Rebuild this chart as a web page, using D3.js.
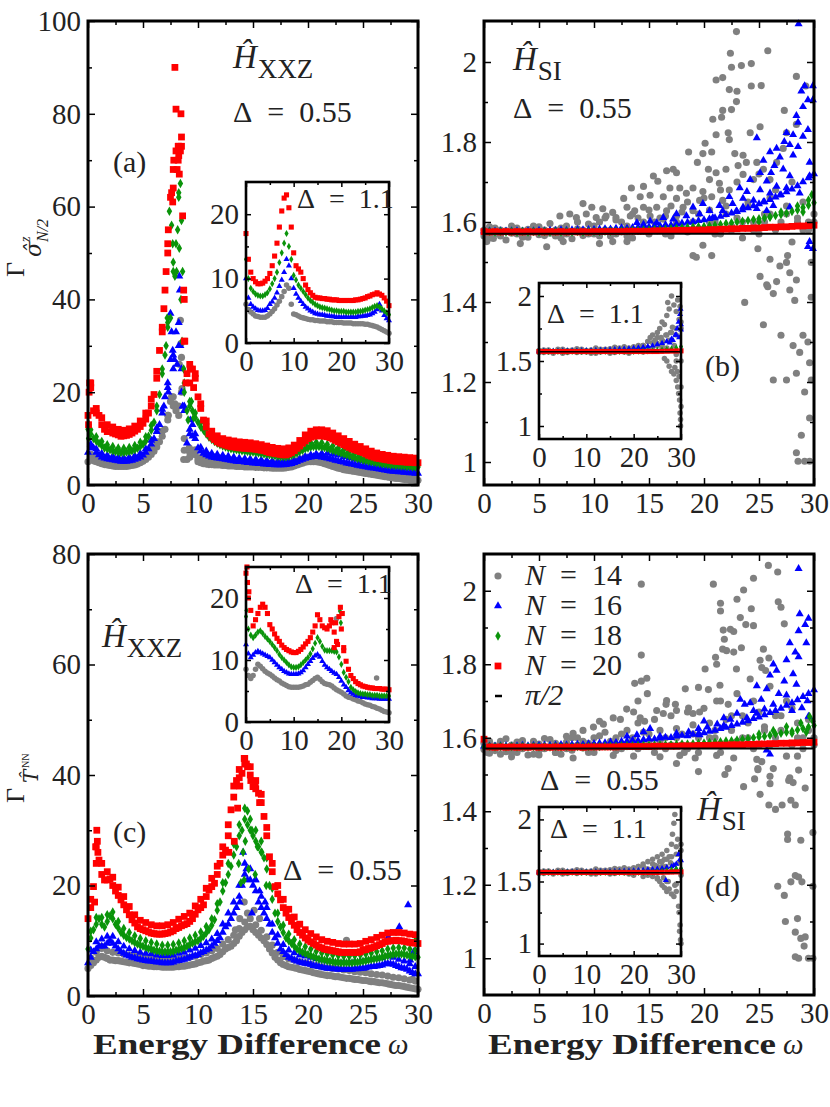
<!DOCTYPE html>
<html>
<head>
<meta charset="utf-8">
<script src="https://cdn.jsdelivr.net/npm/d3@7"></script>
<style>
body { margin: 0; background: #fff; }
svg text { font-family: "Liberation Serif", "DejaVu Serif", serif; fill: #222; }
</style>
</head>
<body>
<svg id="fig" width="830" height="1107"></svg>
<script>
// ---- ticks ----
var xMajor = [0, 5, 10, 15, 20, 25, 30];
var xMinor = [2.5, 7.5, 12.5, 17.5, 22.5, 27.5];
var aYMajor = [0, 20, 40, 60, 80, 100], aYMinor = [10, 30, 50, 70, 90];
var cYMajor = [0, 20, 40, 60, 80], cYMinor = [10, 30, 50, 70];
var siYMajor = [1, 1.2, 1.4, 1.6, 1.8, 2], siYMinor = [1.1, 1.3, 1.5, 1.7, 1.9];
var inXMajor = [0, 10, 20, 30], inXMinor = [5, 15, 25];
var inXXZMajor = [0, 10, 20], inXXZMinor = [5, 15];
var inSIMajor = [1, 1.5, 2], inSIMinor = [1.25, 1.75];
var legendLabels = ['14', '16', '18', '20'];
var piHalf = Math.PI / 2;

// ---- (a) sigma^z_{N/2}, Delta = 0.55: band centre on a 0.25 grid, upper edge on 0.25 + 0.5 grid ----
var aGray = [5,5.5,5.2,5,4.8,4.6,4.4,4.3,4.2,4.1,4,4,4,4,4,4.1,4.2,4.3,4.5,4.8,
  5.1,5.5,6,6.6,7.3,8.2,9.3,10.5,12,14,18,17,16,15,20,10,5.5,6,7.5,6.5,
  5,4.8,4.6,4.5,4.4,4.4,4.3,4.3,4.3,4.2,4.2,4.1,4.1,4.1,4,4,4,3.9,3.9,3.9,
  3.9,3.8,3.8,3.8,3.7,3.7,3.7,3.6,3.6,3.6,3.6,3.6,3.7,3.8,3.9,4.1,4.3,4.5,4.7,4.9,
  5,5,5,5,4.9,4.8,4.6,4.4,4.2,4,3.8,3.6,3.5,3.3,3.2,3.1,3,2.9,2.8,2.7,
  2.6,2.5,2.4,2.3,2.2,2.1,2,1.9,1.8,1.7,1.6,1.5,1.4,1.4,1.3,1.2,1.2,1.1,1.1,1, 1];
var aGrayHi = [6.6,6.1,5.7,5.4,5.2,5.1,5.1,5.2,5.4,5.9, 6.6,7.7,9.3,11.6,15,19,17,7.5,7,7.6,
  5.9,5.6,5.5,5.4,5.3,5.2,5.2,5.1,5,5, 4.9,4.9,4.8,4.7,4.7,4.7,4.9,5.2,5.6,6,
  6.1,6.1,5.9,5.5,5.1,4.7,4.4,4.2,4,3.8, 3.6,3.4,3.2,3,2.8,2.6,2.5,2.3,2.2,2.1];
var aBlue = [7,8,8,7,6.5,6,5.8,5.6,5.5,5.4,5.3,5.2,5.1,5.1,5.1,5.2,5.3,5.5,5.7,6,
  6.4,7,7.8,8.8,10,11.5,13,15.5,19,21,27,25,33,30,25,16,9,11,13,10,
  8,7.3,6.8,6.5,6.2,6,5.9,5.8,5.7,5.6,5.5,5.4,5.3,5.2,5.1,5,5,4.9,4.8,4.8,
  4.7,4.7,4.6,4.6,4.5,4.5,4.4,4.4,4.3,4.3,4.3,4.3,4.4,4.5,4.6,4.8,5,5.3,5.5,5.7,
  5.9,6,6.1,6.1,6.1,6,5.9,5.8,5.6,5.5,5.3,5.2,5,4.9,4.7,4.6,4.5,4.4,4.2,4.1,
  4,3.9,3.8,3.7,3.6,3.5,3.4,3.3,3.2,3.1,3,2.9,2.9,2.8,2.8,2.7,2.7,2.6,2.6,2.5, 2.5];
var aBlueHi = [8.8,7.8,6.8,6.4,6.2,6,5.9,6,6.3,6.8, 7.8,9.6,12.3,16.3,22,28,35,17,12,11,
  8.1,7.3,6.8,6.6,6.4,6.2,6,5.8,5.7,5.6, 5.5,5.4,5.3,5.2,5.1,5.1,5.1,5.3,5.6,6.1,
  6.5,6.7,6.8,6.8,6.6,6.4,6.1,5.8,5.5,5.2, 4.9,4.7,4.5,4.3,4.1,3.9,3.8,3.7,3.6,3.5];
var aGreen = [12,11,10,9.5,9,8.5,8,7.8,7.6,7.4,7.2,7.1,7,7,7.1,7.2,7.4,7.6,7.9,8.3,
  8.8,9.5,10.5,11.8,13.5,16,19.5,24,28,34,36,46,52,62,57,20,16,17,16,14.5,
  13.5,12.5,11.8,11,10.3,9.8,9.4,9,8.7,8.4,8.2,8,7.8,7.7,7.6,7.5,7.4,7.3,7.2,7.1,
  7.1,7,6.9,6.8,6.7,6.6,6.5,6.4,6.3,6.2,6.1,6.1,6.1,6.2,6.4,6.6,6.9,7.2,7.5,7.8,
  8,8.2,8.3,8.3,8.3,8.2,8.1,7.9,7.7,7.5,7.3,7.1,6.9,6.7,6.5,6.3,6.1,5.9,5.7,5.6,
  5.4,5.3,5.1,5,4.9,4.8,4.7,4.6,4.5,4.4,4.3,4.3,4.2,4.2,4.1,4.1,4,4,3.9,3.9, 3.9];
var aGreenHi = [11.9,10.4,9.4,8.7,8.3,8,7.9,8.1,8.5,9.2, 10.4,12.8,17,25,35,48,63,22,18,15.5,
  13.4,11.9,10.7,9.9,9.3,8.9,8.6,8.4,8.2,8, 7.9,7.7,7.5,7.3,7.1,7,7.1,7.5,8.1,8.7,
  9.1,9.2,9.1,8.8,8.4,8,7.6,7.2,6.8,6.5, 6.2,5.9,5.7,5.5,5.3,5.2,5.1,5,4.9,4.8];
var aRed = [15,21,16,15.5,15,13,12,11.5,11.5,11.2,11,10.8,10.5,10.6,10.7,10.9,11.2,11.6,12,12.6,
  13.3,14.2,15.5,17,19.5,23,29,34,42,52,62,64,72,71,73,40,24,22,25,23,
  19,16.5,14,12.5,11,10.3,9.8,9.3,9,8.8,8.6,8.4,8.3,8.2,8.1,8,8,7.9,7.9,7.8,
  7.8,7.7,7.6,7.5,7.4,7.2,7,6.9,6.8,6.7,6.6,6.5,6.5,6.7,7,7.4,7.9,8.4,9,9.5,
  10,10.3,10.5,10.6,10.6,10.6,10.5,10.4,10.2,9.9,9.6,9.3,9,8.7,8.4,8.1,7.8,7.6,7.4,7.2,
  7,6.7,6.4,6.2,6,5.8,5.7,5.6,5.5,5.4,5.3,5.2,5.1,5.1,5,5,4.9,4.9,4.9,4.8, 4.8];
var aRedHi = [22,16.5,14.5,13,12.5,12,11.8,12.1,12.7,13.8, 15.5,18.5,24.5,33,50,68,73,31,26,24,
  17.5,13.8,11.6,10.6,10,9.7,9.5,9.3,9.2,9.1, 8.9,8.7,8.4,8.1,7.9,7.8,8,8.6,9.6,10.8,
  11.6,11.9,11.9,11.7,11.2,10.6,10,9.4,8.8,8.3, 7.8,7.3,6.9,6.6,6.4,6.2,6.1,6,5.9,5.8];
var aGrayPts = [[8.4,35.5],[8.45,30.5],[8.5,27.5],[8.55,20.8],[8.3,26],[7.6,19],[7.9,17.5],[8.7,5.5],[9.2,8],[9.6,7.2],[10,5.5],[7.3,15]];
var aBluePts = [[7.5,37],[7.6,33],[7.7,29],[7.85,27],[8.1,26],[8.3,45],[8.35,42],[8.4,30],[8.5,20],[8.6,17],[9.3,14],[9.5,10.5],[7.3,20],[6.9,17]];
var aGreenPts = [[7.4,59],[7.6,56],[7.7,52],[7.9,45],[8.05,46],[8.15,55],[8.3,51],[8.4,65],[8.45,40],[8.55,31],[8.6,46],[7.2,36],[7.1,30],[8.7,25],[9.1,14],[9.4,18],[9.6,14.5],[0.1,13],[0.05,10]];
var aRedPts = [[7.6,63],[7.7,61],[7.9,90],[8,81],[8.1,68],[8.2,70],[8.3,67],[8.45,80],[8.5,75],[8.4,72],[8.6,58],[8.7,42],[8.8,31],[8.9,22],[9.3,25],[9.6,21],[7.3,55],[7.1,46],[6.9,38],[0.1,20],[0.15,22],[0.05,13],[8.2,73],[7.8,70]];

// ---- (a) inset, Delta = 1.1, step 0.5 ----
var iaGray = [6,5.2,4.8,4.5,4.2,4.1,4,4,4,4.2, 4.5,4.9,5.3,5.9,6.5,7.2,8,9,8.5,6,
  4.5,4.4,4.2,4,3.9,3.8,3.7,3.6,3.6,3.5, 3.5,3.4,3.4,3.4,3.3,3.3,3.3,3.2,3.2,3.2,
  3.2,3.1,3.1,3.1,3.1,3,3,3,3,3, 2.9,2.9,2.8,2.7,2.6,2.5,2.3,2.1,1.9,1.7, 1.5];
var iaBlue = [10,7,6,5.6,5.3,5.1,5,5,5.1,5.4, 6,6.4,7,7.8,8.8,9.8,11,13,12,10,
  8.5,7.6,7,6.5,6,5.6,5.3,5,4.8,4.6, 4.5,4.4,4.4,4.3,4.2,4.2,4.1,4.1,4,4,
  4,4,4,4,4,4,4,4.1,4.1,4.2, 4.2,4.3,4.4,4.6,4.8,5.2,6,5,4.3,3.8, 3.5];
var iaGreen = [13,10,8.5,8,7.6,7.4,7.3,7.3,7.5,7.8, 8.4,9.2,10,11,12.5,14,15.5,17,15,13,
  10.5,9.8,9,8.5,8,7.5,7,6.6,6.3,6, 5.8,5.6,5.5,5.4,5.3,5.2,5.1,5,5,4.9,
  4.9,4.9,4.8,4.8,4.8,4.8,4.8,4.9,4.9,5, 5.1,5.2,5.3,5.5,5.7,5.8,5.6,5.3,5,4.7, 4.4];
var iaRed = [17,13,11,10,9.5,9.2,9.2,9.3,9.6,10, 10.8,12,13.5,15.5,18,20.5,22.5,23,21,18,
  14,12,11.5,11,10,9,8.3,7.8,7.4,7.1, 7,7,6.9,6.9,6.8,6.8,6.7,6.7,6.7,6.6,
  6.6,6.6,6.6,6.6,6.6,6.6,6.7,6.7,6.8,6.9, 7,7.2,7.3,7.5,7.6,7.8,7.6,7.4,7,6.5, 5.8];

// ---- (b) sigma, H_SI, Delta = 0.55, step 0.5 ----
var bGray = [1.58,1.56,1.585,1.565,1.578,1.59,1.57,1.562,1.582,1.575,1.588,1.566,1.572,1.58,1.56,1.59,1.575,1.583,1.566,1.595,
  1.57,1.6,1.58,1.565,1.605,1.575,1.59,1.56,1.61,1.585,1.57,1.6,1.58,1.615,1.565,1.595,1.625,1.575,1.6,1.62,
  1.58,1.63,1.6,1.57,1.64,1.59,1.61,1.56,1.65,1.6,1.57,1.62,1.66,1.58,1.6,1.64,1.55,1.61,1.58,1.6, 1.6];
var bGray2 = [1.565,1.588,1.57,1.58,1.555,1.572,1.585,1.578,1.562,1.59,1.568,1.58,1.596,1.565,1.585,1.57,1.558,1.6,1.58,1.57,
  1.59,1.565,1.61,1.58,1.57,1.6,1.565,1.62,1.58,1.6,1.63,1.58,1.61,1.57,1.64,1.6,1.585,1.65,1.6,1.58,
  1.66,1.6,1.57,1.68,1.62,1.58,1.7,1.6,1.64,1.58,1.72,1.6,1.62,1.68,1.59,1.62,1.7,1.6,1.65,1.58, 1.62];
var bBlue = [1.577,1.578,1.577,1.578,1.577,1.578,1.578,1.577,1.578,1.578,1.579,1.578,1.579,1.579,1.58,1.579,1.58,1.581,1.58,1.581,
  1.581,1.582,1.583,1.582,1.584,1.585,1.584,1.586,1.587,1.589,1.588,1.59,1.591,1.593,1.592,1.595,1.597,1.599,1.601,1.603,
  1.605,1.608,1.61,1.614,1.618,1.622,1.626,1.63,1.635,1.64,1.645,1.65,1.656,1.662,1.668,1.675,1.682,1.69,1.7,1.71, 1.72];
var bGreen = [1.575,1.576,1.575,1.576,1.575,1.576,1.575,1.576,1.575,1.576,1.575,1.576,1.575,1.576,1.575,1.576,1.575,1.576,1.575,1.576,
  1.576,1.576,1.577,1.577,1.577,1.578,1.578,1.579,1.579,1.58,1.58,1.581,1.581,1.582,1.583,1.584,1.585,1.586,1.587,1.588,
  1.589,1.59,1.592,1.594,1.596,1.598,1.6,1.602,1.604,1.606,1.608,1.61,1.613,1.616,1.619,1.622,1.626,1.63,1.636,1.642, 1.648];
var bRed = [1.576,1.575,1.576,1.575,1.576,1.575,1.576,1.575,1.576,1.575,1.576,1.575,1.576,1.575,1.576,1.575,1.576,1.575,1.576,1.575,
  1.576,1.576,1.576,1.576,1.576,1.576,1.577,1.577,1.577,1.577,1.577,1.578,1.578,1.578,1.578,1.579,1.579,1.579,1.58,1.58,
  1.58,1.581,1.581,1.582,1.582,1.583,1.583,1.584,1.584,1.585,1.585,1.586,1.587,1.587,1.588,1.588,1.589,1.59,1.59,1.591, 1.592];
var bGrayPts = [[22.95,2.076],[22.4,2.022],[22.5,1.987],[23.4,1.991],[24.3,1.996],[25.8,2.028],[21.1,1.955],[21.7,1.961],[22.3,1.931],[23,1.927],
  [24.3,1.94],[25.2,1.941],[22.95,1.901],[28.4,1.964],[29.25,1.94],[21.7,1.879],[22.5,1.881],[27.3,1.879],[20.8,1.857],[21.6,1.862],
  [22.2,1.823],[21.1,1.818],[25.1,1.838],[24.2,1.823],[27.5,1.823],[28.4,1.844],[20.1,1.797],[20.7,1.775],[22.3,1.806],[22.8,1.771],
  [23.55,1.767],[23.85,1.749],[27.2,1.784],[18.6,1.775],[19.9,1.771],[19.4,1.749],[20.4,1.732],[21.1,1.723],[22,1.732],[23.1,1.741],
  [24.8,1.749],[25.4,1.732],[26.6,1.749],[16.6,1.728],[17.2,1.732],[17.5,1.723],[15.4,1.715],[15.8,1.702],[20.5,1.706],[21.4,1.697],
  [23.55,1.719],[24.5,1.706],[26,1.706],[13.4,1.685],[14.5,1.689],[16.9,1.685],[17.8,1.685],[19,1.685],[19.9,1.676],[22.3,1.68],
  [12.7,1.659],[14.2,1.663],[15.1,1.667],[16.3,1.663],[17.5,1.659],[18.4,1.672],[19.6,1.654],[20.7,1.663],[21.7,1.654],[9,1.646],
  [9.8,1.637],[10.8,1.633],[11.7,1.624],[13,1.637],[13.7,1.628],[14.5,1.637],[15.7,1.637],[16.6,1.628],[18.1,1.637],[19,1.628],
  [6.9,1.615],[7.8,1.62],[8.4,1.611],[9.3,1.62],[10.2,1.611],[11.1,1.615],[12,1.611],[13.3,1.615],[15.1,1.615],[16.3,1.607],[17.5,1.615],
  [0.25,1.551],[0.85,1.559],[3.3,1.546],[5.7,1.538],[7.2,1.551],[10.5,1.546],[11.7,1.551],[13,1.551],[19,1.516],[19.3,1.512],
  [19.9,1.542],[20.7,1.516],[24.9,1.533],[25.1,1.464],[26,1.507],[25.8,1.438],[26.9,1.49],[27.6,1.516],[27.5,1.499],[27.8,1.473],
  [28.4,1.455],[26.6,1.451],[25.7,1.443],[26.3,1.421],[27.8,1.43],[28.25,1.404],[23.7,1.399],[25.4,1.343],[27,1.317],[28.1,1.291],
  [29,1.317],[29.45,1.3],[26.3,1.205],[27.5,1.205],[28.4,1.222],[29.15,1.175],[29.6,1.11],[28.85,1.067],[28.4,1.023],[28.55,1.002],
  [29.15,1.002],[29.6,1.002],[29.75,1.205],[29.75,1.412],[29.6,1.248],[28.7,1.274],[29.75,1.499]];
var bBluePts = [[28.6,2.095],[29.15,1.94],[29.9,1.94],[28.85,1.927],[29.45,1.905],[29,1.888],[29.9,1.905],[28.4,1.866],[28.55,1.849],[29.45,1.831],
  [27.5,1.823],[28.1,1.818],[29,1.814],[24.8,1.81],[27.3,1.801],[27.8,1.793],[28.55,1.788],[26.6,1.784],[26,1.775],[26.9,1.762],
  [28.1,1.767],[25.4,1.754],[29.6,1.749],[26.4,1.741],[27.2,1.732],[26.1,1.723],[25.1,1.723],[27.8,1.715],[29.6,1.715],[24.2,1.706],
  [25.7,1.702],[26.6,1.689],[27.5,1.685],[23.25,1.685],[23.9,1.676],[25.1,1.68],[26,1.672],[26.9,1.667],[28.7,1.672],[22.3,1.663],
  [23.55,1.659],[24.5,1.654],[25.4,1.65],[19.9,1.646],[21.4,1.641],[22.6,1.646],[23.55,1.637],[26.3,1.641],[27.8,1.637],[19,1.637],
  [20.5,1.628],[21.7,1.628],[22.95,1.628],[24.8,1.633],[25.7,1.628],[17.5,1.62],[18.4,1.615],[19.6,1.62],[20.8,1.611],[16.3,1.611],
  [17.2,1.607],[15.1,1.602],[13.9,1.598],[14.5,1.594],[15.7,1.598],[29.45,1.538],[29.6,1.551],[29.9,1.533]];
var bGreenPts = [[29.8,1.668],[29.5,1.655],[28.5,1.64],[27,1.625],[26,1.612],[29,1.625],[25,1.6]];

// ---- (b) inset, Delta = 1.1, step 1 ----
var ibGray = [1.58,1.565,1.585,1.57,1.59,1.56,1.58,1.575,1.565,1.59,1.57,1.585,1.56,1.59,1.575,1.595,1.565,1.6,1.57,1.6,1.61,1.58,1.62,1.6,1.64,1.63,1.66,1.7,1.72,1.75,1.8];
var ibGray2 = [1.565,1.585,1.57,1.56,1.578,1.59,1.565,1.585,1.595,1.57,1.58,1.56,1.6,1.57,1.59,1.56,1.605,1.58,1.61,1.56,1.59,1.62,1.57,1.65,1.6,1.68,1.62,1.6,1.66,1.55,1.5];
var ibBlue = [1.576,1.577,1.576,1.577,1.577,1.578,1.578,1.578,1.579,1.58,1.58,1.581,1.582,1.583,1.584,1.586,1.588,1.59,1.592,1.595,1.598,1.602,1.606,1.611,1.618,1.626,1.636,1.65,1.67,1.7,1.74];
var ibGreen = [1.573,1.573,1.573,1.573,1.573,1.573,1.573,1.573,1.573,1.573,1.573,1.573,1.573,1.573,1.573,1.573,1.573,1.573,1.573,1.573,1.574,1.575,1.576,1.577,1.579,1.581,1.584,1.588,1.593,1.6,1.61];
var ibRed = [1.573,1.573,1.573,1.573,1.573,1.573,1.573,1.573,1.573,1.573,1.573,1.573,1.573,1.573,1.573,1.573,1.573,1.573,1.573,1.573,1.573,1.573,1.573,1.573,1.573,1.573,1.574,1.575,1.576,1.577,1.578];
var ibGrayPts = [[22,1.62],[23,1.65],[23.5,1.68],[24,1.7],[24.5,1.66],[25,1.72],[25.5,1.75],[26,1.8],[26.5,1.78],[27,1.85],[27.5,1.9],[27.2,1.95],[28,2],[28.5,1.93],[29,1.88],[29.3,1.97],[29.6,1.82],[28.2,1.76],[27.8,1.72],[26.8,1.7],[25.8,1.68],[26.2,1.65],[24.8,1.64],[27.5,1.66],[29,1.7],[28.6,1.62],[29.8,1.92],[30,1.75],[25,1.62],[26,1.6],[20,1.6],[18,1.59],[16,1.6],[21,1.61],[23,1.6],
  [26.5,1.52],[27,1.5],[27.5,1.46],[28,1.42],[28.5,1.4],[29,1.35],[29.3,1.3],[29.5,1.25],[29.7,1.2],[29.8,1.1],[29.9,1.05],[29.9,1],[28.7,1.45],[29.2,1.42],[29.6,1.38],[30,1.3],[30,1.15],[29,1.5]];
var ibBluePts = [[29.5,1.8],[29.8,1.86],[29.9,1.9],[29.2,1.75],[28.8,1.7],[29.6,1.68],[28.3,1.66],[27.6,1.64],[30,1.78]];

// ---- (c) T^NN, Delta = 0.55: band centre on a 0.25 grid, upper edge on 0.25 + 0.5 grid ----
var cGray = [5,5.5,6,6.5,7,7.2,7,6.8,6.5,6.5,6.4,6.4,6.3,6.2,6.1,6,6,5.9,5.8,5.7,
  5.5,5.5,5.4,5.4,5.3,5.3,5.3,5.2,5.2,5.2,5.2,5.2,5.3,5.3,5.4,5.4,5.5,5.6,5.7,5.8,
  6,6.1,6.3,6.4,6.5,6.8,7,7.2,7.5,8,8.5,8.8,9,9.5,10,10.8,11.5,12,12.5,12.6,
  12,11.5,11,10.5,10,9.3,8.5,7.8,7,6.5,6,5.7,5.5,5.3,5.2,5.1,5,4.8,4.7,4.6,
  4.5,4.4,4.2,4.1,4,3.9,3.8,3.7,3.7,3.6,3.5,3.5,3.4,3.3,3.2,3.2,3.1,3,3,2.9,
  2.8,2.8,2.7,2.6,2.6,2.5,2.4,2.4,2.3,2.2,2.1,2,1.9,1.9,1.8,1.7,1.6,1.5,1.4,1.3, 1.2];
var cGrayHi = [6.9,7.9,8.6,8.2,7.9,7.8,7.6,7.4,7.3,7.1, 6.9,6.8,6.7,6.6,6.6,6.6,6.7,6.8,7,7.2,
  7.5,7.8,8.2,8.6,9.4,10.2,11,12.2,13.4,14, 12.9,11.9,10.7,9.2,7.9,7.1,6.7,6.5,6.2,6,
  5.8,5.5,5.3,5.1,5,4.9,4.7,4.6,4.4,4.3, 4.2,4,3.9,3.8,3.6,3.4,3.3,3.1,2.9,2.7];
var cBlue = [6,7,8,8.5,9,9,9,9.5,10,9.5,9,8.5,8,7.7,7.4,7.2,7,6.9,6.7,6.6,
  6.5,6.4,6.3,6.3,6.2,6.1,6.1,6,6,6,6,6.1,6.3,6.4,6.5,6.6,6.8,7,7.2,7.3,
  7.5,7.8,8,8.3,8.5,9,9.5,10,10.5,11.5,12.5,13,14,15,16,18,20,22,21,21,
  20,19,17,16,15,14,13,11.5,10.5,9.5,8.5,8,7.5,7,6.8,6.5,6.3,6.1,6,5.9,
  5.8,5.7,5.5,5.4,5.3,5.2,5.1,5,5,4.9,4.9,4.8,4.8,4.8,4.8,4.8,4.8,4.9,4.9,5,
  5,5.1,5.2,5.3,5.3,5.4,5.5,5.6,5.8,5.9,5.8,5.7,5.5,5.3,5.1,5,4.8,4.5,4.2,4, 4];
var cBlueHi = [8.3,9.8,10.3,10.8,10.8,9.8,9,8.5,8.2,7.9, 7.7,7.6,7.4,7.3,7.3,7.4,7.7,7.9,8.3,8.6,
  9.1,9.6,10.3,11.3,13,15,17,20,24,23, 21,18,16,13,11,9.3,8.3,7.8,7.4,7.2,
  7,6.7,6.5,6.3,6.2,6.1,6.1,6.1,6.2,6.3, 6.4,6.6,6.7,6.9,7.2,7,6.6,6.3,5.8,5.3];
var cGreen = [8.5,10.5,12,13,14,13,12.5,13.5,14.5,14,13,12.3,11.5,11,10.6,10.3,10,9.7,9.4,9.2,
  9,8.8,8.6,8.5,8.3,8.2,8.1,8,8,8,8,8.1,8.3,8.4,8.6,8.8,9,9.3,9.6,9.8,
  10,10.4,10.8,11.4,12,12.8,13.8,15.5,17,19,20.5,22,23.5,25.5,27,29,30,32,31,30,
  29,28,27,26,25,23,20,17.5,15,13.5,12.5,11.5,10.5,10,9.5,9,8.5,8.2,7.9,7.7,
  7.5,7.3,7.1,6.9,6.7,6.6,6.5,6.4,6.3,6.2,6.1,6.1,6,6,6,6,6,6.1,6.1,6.2,
  6.3,6.4,6.5,6.6,6.7,6.8,6.9,7,7.2,7.3,7.4,7.5,7.6,7.6,7.6,7.5,7.4,7.3,7.2,7.1, 7];
var cGreenHi = [11.7,14.2,14.2,14.7,15.2,13.5,12.2,11.5,10.9,10.4, 10,9.7,9.4,9.2,9.2,9.3,9.6,10,10.5,11,
  11.6,12.6,14,16.7,20.5,24,27.5,31,34,32, 30,28,25,19.5,15,12.8,11.2,10.2,9.4,8.9,
  8.5,8.1,7.8,7.6,7.4,7.3,7.2,7.2,7.3,7.4, 7.6,7.8,8,8.2,8.5,8.7,8.8,8.7,8.5,8.3];
var cRed = [14,16,19.8,24,24.6,22,21,21,21.2,20,19,18.2,17.4,16.5,15.6,14.7,13.8,13.2,12.5,12.2,
  12,11.8,11.6,11.4,11.3,11.2,11.2,11.2,11.3,11.4,11.6,11.8,12.2,12.4,12.7,12.9,13.1,13.5,14,14.8,
  15.6,16,16.5,18,19.2,19.8,20.4,22,24,25.5,26.4,29,33.7,36,39,39.5,40.3,42,41.5,40,
  37.9,37.5,36.7,35,32.5,29,25.2,22.5,19.8,18.5,17.4,16,15,14.2,13.5,12.8,12,11.5,11,10.5,
  10.1,9.8,9.5,9.2,8.9,8.7,8.5,8.4,8.3,8.2,8.1,8,7.9,7.9,7.9,7.9,7.9,7.9,7.9,8,
  8.3,8.4,8.6,8.7,8.9,9.1,9.3,9.5,9.8,9.9,10,10,10.1,10,10,9.9,9.8,9.7,9.6,9.6, 9.5];
var cRedHi = [17.5,27,24,22.5,21.5,19.7,18,16.2,14.7,13.7, 13.3,12.9,12.7,12.7,12.9,13.3,13.9,14.4,15,16.3,
  17.5,19.5,21.3,23.5,27,31,38,41,43,41.5, 39,36.5,30.5,24,20,17.5,15.7,14.3,13,12,
  11.3,10.7,10.2,9.9,9.7,9.5,9.4,9.4,9.4,9.5, 9.9,10.2,10.6,11,11.4,11.5,11.5,11.4,11.2,11.1];
var cGrayPts = [[14.2,17],[14.5,15],[13.8,14],[15.1,15.5],[15.6,14],[13.4,12],[23.5,10.1],[29.5,3],[1.2,9]];
var cBluePts = [[14.1,26],[14.4,23],[15.2,21],[13.8,17],[15.6,19],[16.1,17],[14.9,15],[29.1,16.5],[28.3,12.5],[27.3,10.7],[29.6,8],[29.3,6.5]];
var cGreenPts = [[14.5,33.5],[14.3,28],[14.9,30],[15.4,27],[13.7,24],[15.8,26],[14.1,26],[29.8,10.2],[16.2,20],[14.2,21],[14.6,23],[15.2,22],[13.9,20.5]];
var cRedPts = [[0.8,30],[0.85,28],[0.9,26],[0.7,27],[14.2,43],[14.4,42],[13.8,38],[13.6,34],[14.8,39],[15.2,38.5],[15.6,35],[13.3,28],[12.8,26],[0.6,17]];

// ---- (c) inset, Delta = 1.1, step 0.5 ----
var icGray = [8.5,7.5,7,7.5,8.5,9.3,9,8.6,8.2,7.9, 7.7,7.4,7.1,6.8,6.6,6.3,6.1,5.9,5.7,5.6,
  5.6,5.6,5.6,5.7,5.8,6,6.1,6.4,6.7,7, 7.2,6.9,6.5,6.2,6.1,6,5.8,5.5,5.2,5,
  4.8,4.5,4.2,4,3.9,3.7,3.6,3.4,3.3,3.1, 2.9,2.8,2.7,2.5,2.4,2.2,2.1,1.9,1.7,1.6, 1.5];
var icBlue = [12.5,11,10.4,10.8,11.2,11.4,11.2,11,10.8,10.6, 10.4,10,9.6,9.2,8.8,8.5,8.2,8,7.8,7.7,
  7.7,7.7,7.8,8,8.3,8.8,9.3,9.8,10.3,10.7, 10.9,10.5,9.8,9.2,8.8,8.5,8.2,7.9,7.7,7.2,
  6.6,6,5.6,5.1,4.7,4.5,4.3,4.2,4.1,4, 4,3.9,3.9,3.8,3.8,3.8,3.7,3.7,3.7,3.7, 3.7];
var icGreen = [17,15,14,13.6,14,14.5,14.7,14.3,13.8,13.4, 13,12.5,12,11.5,10.9,10.4,10,9.6,9.2,8.9,
  8.8,8.8,8.9,9.2,9.6,10,10.4,11,11.8,12.7, 13.6,13,12.2,11.6,11.5,11.5,11.5,11.4,11.3,10.5,
  9.3,8,7.2,6.5,5.6,5.2,4.9,4.7,4.6,4.5, 4.5,4.4,4.4,4.3,4.3,4.3,4.2,4.2,4.2,4.2, 4.2];
var icRed = [24,20,18,15.5,16.5,17.5,18.5,19,18.5,17.5, 15.7,15,14.2,13.5,13,12.4,12,11.7,11.5,11.3,
  11.2,11.2,11.4,11.7,12.1,12.6,13,13.6,14.5,15.5, 17.3,16.5,15.5,15.2,15,15.5,16,14.5,13,17,
  15,12,9.8,8.5,7.5,7,6.5,6.2,6,5.8, 5.7,5.6,5.5,5.5,5.4,5.4,5.4,5.3,5.3,5.3, 5.2];
var icGrayPts = [[19,16.7],[27.4,7.1]];
var icGreenPts = [[19.7,17.9],[19.9,16],[0.1,18]];
var icRedPts = [[0.2,25],[0.3,22.5],[0.6,21],[19.8,18.5],[20.2,17.5],[18.5,12],[19.2,12.5],[20.5,11.5],[17.8,16.5],[18.8,16]];

// ---- (d) T^NN, H_SI, Delta = 0.55, step 0.5 ----
var dGray = [1.585,1.558,1.578,1.59,1.562,1.58,1.567,1.592,1.575,1.555,1.583,1.57,1.595,1.56,1.578,1.588,1.566,1.6,1.572,1.585,
  1.56,1.605,1.578,1.59,1.565,1.61,1.583,1.6,1.57,1.615,1.59,1.56,1.62,1.6,1.58,1.625,1.61,1.57,1.635,1.6,
  1.58,1.64,1.6,1.56,1.65,1.62,1.59,1.66,1.6,1.57,1.67,1.63,1.58,1.66,1.62,1.55,1.68,1.6,1.57,1.65, 1.6];
var dGray2 = [1.568,1.59,1.565,1.575,1.597,1.56,1.588,1.57,1.553,1.59,1.565,1.598,1.575,1.585,1.555,1.57,1.6,1.58,1.59,1.56,
  1.6,1.575,1.615,1.58,1.6,1.57,1.62,1.59,1.64,1.58,1.61,1.65,1.59,1.57,1.66,1.6,1.58,1.67,1.61,1.56,
  1.68,1.6,1.62,1.7,1.58,1.66,1.72,1.6,1.64,1.7,1.58,1.62,1.74,1.6,1.66,1.7,1.58,1.64,1.6,1.62, 1.58];
var dBlue = [1.577,1.578,1.577,1.578,1.578,1.577,1.578,1.579,1.578,1.579,1.579,1.58,1.579,1.58,1.581,1.58,1.581,1.582,1.581,1.583,
  1.584,1.585,1.586,1.588,1.587,1.59,1.591,1.593,1.592,1.595,1.597,1.596,1.599,1.601,1.6,1.604,1.606,1.605,1.609,1.611,
  1.613,1.617,1.62,1.625,1.628,1.633,1.637,1.642,1.646,1.652,1.656,1.662,1.668,1.674,1.68,1.688,1.695,1.703,1.712,1.72, 1.73];
var dGreen = [1.575,1.576,1.575,1.576,1.575,1.576,1.575,1.576,1.575,1.576,1.575,1.576,1.575,1.576,1.575,1.576,1.575,1.576,1.575,1.576,
  1.576,1.576,1.577,1.577,1.577,1.578,1.578,1.578,1.579,1.579,1.579,1.58,1.58,1.581,1.581,1.582,1.583,1.583,1.584,1.585,
  1.586,1.587,1.588,1.589,1.591,1.592,1.594,1.596,1.598,1.6,1.602,1.604,1.607,1.61,1.612,1.615,1.618,1.621,1.625,1.629, 1.633];
var dRed = [1.596,1.575,1.574,1.575,1.574,1.575,1.574,1.575,1.574,1.575,1.574,1.575,1.574,1.575,1.574,1.575,1.574,1.575,1.574,1.575,
  1.575,1.575,1.575,1.575,1.575,1.576,1.576,1.576,1.576,1.576,1.576,1.577,1.577,1.577,1.577,1.577,1.578,1.578,1.578,1.579,
  1.579,1.579,1.58,1.58,1.58,1.581,1.581,1.581,1.582,1.582,1.583,1.583,1.584,1.584,1.585,1.585,1.586,1.586,1.587,1.587, 1.588];
var dGrayPts = [[14.3,2.018],[20.85,2.018],[24.5,2.034],[25.85,2.069],[26.7,2.051],[23.6,2.002],[21.5,1.966],[21.5,1.945],[23,1.977],[24.3,1.951],
  [26.75,1.97],[27,1.955],[23.3,1.927],[23.8,1.908],[24.5,1.905],[21.75,1.893],[22.4,1.895],[22.7,1.889],[27.3,1.91],[21.85,1.868],
  [23.4,1.845],[21.7,1.841],[22.05,1.837],[22.7,1.833],[14.3,1.825],[25.4,1.841],[21.05,1.819],[25.1,1.811],[25.9,1.817],[21.15,1.8],
  [25.25,1.791],[20.1,1.787],[22.95,1.787],[25.6,1.783],[24.2,1.76],[14.8,1.762],[14.3,1.754],[13.7,1.748],[19.5,1.737],[20.4,1.731],
  [21.45,1.743],[18.3,1.733],[14.85,1.72],[14,1.7],[16.6,1.701],[16.55,1.691],[17.4,1.691],[21.15,1.7],[22.2,1.691],[12.97,1.678],
  [13.6,1.67],[15.7,1.674],[16.3,1.666],[17.5,1.674],[18.6,1.681],[19,1.666],[19.6,1.67],[11.75,1.654],[12.4,1.65],[14.2,1.654],
  [14.6,1.645],[10.5,1.645],[10.85,1.637],[9.95,1.629],[9,1.62],[8.1,1.612],[7.5,1.604],
  [8.1,1.545],[13.6,1.55],[11.75,1.552],[16,1.548],[17.8,1.552],[19.2,1.545],[21.15,1.552],[22.7,1.545],[24.8,1.541],[25.25,1.535],
  [19.5,1.508],[22.2,1.516],[24.9,1.516],[26,1.495],[26.3,1.516],[27.8,1.491],[28.6,1.512],[28.1,1.478],[21.9,1.5],[24.9,1.513],
  [24.6,1.488],[26,1.475],[25.1,1.446],[23.6,1.467],[27.7,1.484],[29.2,1.463],[25.9,1.417],[26.5,1.405],[27.1,1.417],[27.9,1.43],
  [28.3,1.417],[27.6,1.338],[27.6,1.323],[28.8,1.321],[29.9,1.342],[28.3,1.225],[28.6,1.221],[27.9,1.208],[26.7,1.196],[27.3,1.171],
  [28.9,1.208],[29.9,1.196],[27.4,1.1],[28.5,1.108],[28.3,1.071],[28.8,1.054],[29.2,1.058],[29.1,1.033],[28.3,1.004],[28.6,1],
  [29.5,1],[29.9,1],[0.3,1.56],[1.5,1.555],[3,1.56],[5,1.553],[6.5,1.56],[2.5,1.548],[17.5,1.53],[18.2,1.56],[28.5,1.55]];
var dBluePts = [[28.6,2.06],[28.7,1.937],[29.5,1.925],[29.2,1.908],[28.6,1.891],[29.3,1.858],[27.8,1.858],[28.3,1.833],[28.6,1.82],[27.5,1.812],
  [26.3,1.8],[26.6,1.783],[26,1.77],[28.1,1.774],[27.3,1.754],[28.4,1.745],[24.8,1.741],[25.7,1.733],[26.8,1.72],[27.5,1.716],
  [25.2,1.704],[24.2,1.695],[23.3,1.704],[23.7,1.691],[25.5,1.678],[24.5,1.674],[23,1.666],[24.8,1.666],[26.3,1.691],[28,1.674],
  [28.9,1.681],[21.8,1.654],[22.4,1.65],[23.9,1.654],[21.2,1.637],[20,1.645],[20.3,1.629],[21.8,1.633],[19.5,1.625],[18.6,1.616],
  [17.5,1.612],[19.6,1.608],[15.1,1.625],[14.5,1.616],[13.9,1.608],[16,1.604],[13,1.604],[25.7,1.566],[29.4,1.7],[29.5,1.658],[26,1.555]];
var dGreenPts = [[29.6,1.658],[29.9,1.645],[28.8,1.64],[27.5,1.63],[26.3,1.62],[25,1.61],[29.3,1.615],[28,1.612]];

// ---- (d) inset, Delta = 1.1, step 1 ----
var idGray = [1.58,1.565,1.585,1.57,1.59,1.56,1.58,1.575,1.565,1.59,1.57,1.585,1.56,1.59,1.575,1.595,1.565,1.6,1.57,1.6,1.61,1.58,1.62,1.6,1.64,1.62,1.66,1.68,1.7,1.72,1.75];
var idGray2 = [1.565,1.585,1.57,1.56,1.578,1.59,1.565,1.585,1.595,1.57,1.58,1.56,1.6,1.57,1.59,1.56,1.605,1.58,1.61,1.56,1.59,1.62,1.57,1.55,1.6,1.53,1.62,1.5,1.58,1.48,1.55];
var idBlue = [1.576,1.577,1.576,1.577,1.577,1.577,1.578,1.578,1.578,1.578,1.579,1.579,1.58,1.58,1.58,1.581,1.582,1.583,1.584,1.585,1.587,1.589,1.591,1.594,1.597,1.6,1.605,1.612,1.62,1.64,1.67];
var idGreen = [1.573,1.573,1.573,1.573,1.573,1.573,1.573,1.573,1.573,1.573,1.573,1.573,1.573,1.573,1.573,1.573,1.573,1.573,1.573,1.573,1.573,1.573,1.573,1.573,1.575,1.578,1.582,1.587,1.593,1.6,1.605];
var idRed = [1.573,1.573,1.573,1.573,1.573,1.573,1.573,1.573,1.573,1.573,1.573,1.573,1.573,1.573,1.573,1.573,1.573,1.573,1.573,1.573,1.573,1.573,1.573,1.573,1.573,1.573,1.574,1.575,1.576,1.577,1.578];
var idGrayPts = [[21,1.62],[22,1.64],[22.5,1.6],[23,1.66],[24,1.68],[24.5,1.63],[25,1.7],[25.5,1.66],[26,1.72],[26.5,1.68],[27,1.75],[27.5,1.7],[28,1.8],[28.5,1.97],[28.7,2.04],[28.2,1.88],[29,1.78],[29.3,1.84],[29.6,1.72],[30,1.8],[27.8,1.65],[26.8,1.62],[25.8,1.61],[29.5,1.65],
  [24,1.54],[25,1.52],[25.5,1.5],[26,1.47],[26.5,1.45],[27,1.42],[27.5,1.44],[28,1.4],[28.5,1.38],[29,1.42],[26.3,1.53],[27.3,1.5],[29.5,1.3],[29.6,1.25],[29.8,1.15],[29.7,1.1],[29.9,1.03],[30,1],[28.7,1.47],[22,1.54],[20,1.55]];
var idBluePts = [[29.5,1.72],[29.8,1.68],[28.5,1.63],[26.8,1.51],[29,1.6]];

// ---- drawing ----
var svg = d3.select('#fig');
var colors = { gray: '#808080', blue: '#0000ff', green: '#0a940a', red: '#ff0000' };
var symTypes = { gray: d3.symbolCircle, blue: d3.symbolTriangle, green: d3.symbolDiamond, red: d3.symbolSquare };
var symBig = { gray: 40, blue: 28, green: 26, red: 46 };
var symSmall = { gray: 24, blue: 16, green: 15, red: 26 };

function onGrid(vals, step, x0) {
    return vals.map(function(v, i) { return [(x0 || 0) + i * step, v]; });
}

function makePanel(box, ydom, inset) {
    var p = {
        box: box,
        inset: inset,
        x: d3.scaleLinear().domain([0, 30]).range([box[0], box[2]]),
        y: d3.scaleLinear().domain(ydom).range([box[3], box[1]]),
        g: svg.append('g')
    };
    if (inset) {
        p.g.append('rect').attr('x', box[0]).attr('y', box[1])
            .attr('width', box[2] - box[0]).attr('height', box[3] - box[1]).attr('fill', '#fff');
    }
    return p;
}

function points(p, pts, kind) {
    var sym = d3.symbol().type(symTypes[kind]).size(p.inset ? symSmall[kind] : symBig[kind]);
    p.g.append('g').selectAll('path').data(pts).enter().append('path')
        .attr('d', sym)
        .attr('transform', function(d) { return 'translate(' + p.x(d[0]) + ',' + p.y(d[1]) + ')'; })
        .attr('fill', colors[kind]);
}

function piLine(p) {
    p.g.append('line')
        .attr('x1', p.x(0)).attr('x2', p.x(30))
        .attr('y1', p.y(piHalf)).attr('y2', p.y(piHalf))
        .attr('stroke', '#000').attr('stroke-width', p.inset ? 1.6 : 2);
}

function axes(p, xMaj, xMin, yMaj, yMin) {
    var b = p.box, big = p.inset ? 5 : 7, small = p.inset ? 3 : 4;
    var fmt = d3.format('~g');
    function one(gen, tx, ty, vals, size, labels) {
        gen.tickValues(vals).tickSize(-size).tickPadding(labels ? 7 : 0)
            .tickFormat(labels ? fmt : function() { return ''; });
        var s = p.g.append('g').attr('transform', 'translate(' + tx + ',' + ty + ')').call(gen);
        s.attr('font-family', null).attr('font-size', null);
        s.select('.domain').remove();
        s.selectAll('line').attr('stroke', '#000').attr('stroke-width', 1.5);
        s.selectAll('text').attr('fill', '#222')
            .style('font-family', '"Liberation Serif", serif').style('font-size', '29px');
    }
    one(d3.axisBottom(p.x), 0, b[3], xMaj, big, true);
    one(d3.axisBottom(p.x), 0, b[3], xMin, small, false);
    one(d3.axisTop(p.x), 0, b[1], xMaj, big, false);
    one(d3.axisTop(p.x), 0, b[1], xMin, small, false);
    one(d3.axisLeft(p.y), b[0], 0, yMaj, big, true);
    one(d3.axisLeft(p.y), b[0], 0, yMin, small, false);
    one(d3.axisRight(p.y), b[2], 0, yMaj, big, false);
    one(d3.axisRight(p.y), b[2], 0, yMin, small, false);
    p.g.append('rect').attr('x', b[0]).attr('y', b[1])
        .attr('width', b[2] - b[0]).attr('height', b[3] - b[1])
        .attr('fill', 'none').attr('stroke', '#000').attr('stroke-width', p.inset ? 2.6 : 3);
}

// grids: {kind: [[values, step, x0], ...]}
function series(p, grids, extra) {
    ['gray', 'blue', 'green', 'red'].forEach(function(k) {
        (grids[k] || []).forEach(function(g) { points(p, onGrid(g[0], g[1], g[2]), k); });
        if (extra && extra[k]) points(p, extra[k], k);
    });
}

// panel (a)
var pa = makePanel([88, 21, 418, 485], [0, 100], false);
series(pa, {
    gray: [[aGray, 0.25], [aGrayHi, 0.5, 0.25]], blue: [[aBlue, 0.25], [aBlueHi, 0.5, 0.25]],
    green: [[aGreen, 0.25], [aGreenHi, 0.5, 0.25]], red: [[aRed, 0.25], [aRedHi, 0.5, 0.25]]
}, { gray: aGrayPts, blue: aBluePts, green: aGreenPts, red: aRedPts });
axes(pa, xMajor, xMinor, aYMajor, aYMinor);
var pai = makePanel([246, 182, 389, 343], [0, 25], true);
series(pai, { gray: [[iaGray, 0.5]], blue: [[iaBlue, 0.5]], green: [[iaGreen, 0.5]], red: [[iaRed, 0.5]] }, null);
axes(pai, inXMajor, inXMinor, inXXZMajor, inXXZMinor);

// panel (b)
var pb = makePanel([484, 21, 814, 485], [0.9425, 2.1025], false);
series(pb, { gray: [[bGray, 0.5], [bGray2, 0.5]], blue: [[bBlue, 0.5]], green: [[bGreen, 0.5]], red: [[bRed, 0.5]] },
    { gray: bGrayPts, blue: bBluePts, green: bGreenPts });
piLine(pb);
axes(pb, xMajor, xMinor, siYMajor, siYMinor);
var pbi = makePanel([539, 283, 681, 439], [0.9, 2.1], true);
series(pbi, { gray: [[ibGray, 1], [ibGray2, 1]], blue: [[ibBlue, 1]], green: [[ibGreen, 1]], red: [[ibRed, 1]] },
    { gray: ibGrayPts, blue: ibBluePts });
piLine(pbi);
axes(pbi, inXMajor, inXMinor, inSIMajor, inSIMinor);

// panel (c)
var pc = makePanel([88, 554, 418, 996], [0, 80], false);
series(pc, {
    gray: [[cGray, 0.25], [cGrayHi, 0.5, 0.25]], blue: [[cBlue, 0.25], [cBlueHi, 0.5, 0.25]],
    green: [[cGreen, 0.25], [cGreenHi, 0.5, 0.25]], red: [[cRed, 0.25], [cRedHi, 0.5, 0.25]]
}, { gray: cGrayPts, blue: cBluePts, green: cGreenPts, red: cRedPts });
axes(pc, xMajor, xMinor, cYMajor, cYMinor);
var pci = makePanel([246, 567, 389, 722], [0, 25], true);
series(pci, { gray: [[icGray, 0.5]], blue: [[icBlue, 0.5]], green: [[icGreen, 0.5]], red: [[icRed, 0.5]] },
    { gray: icGrayPts, green: icGreenPts, red: icRedPts });
axes(pci, inXMajor, inXMinor, inXXZMajor, inXXZMinor);

// panel (d)
var pd = makePanel([484, 554, 814, 995], [0.9, 2.1], false);
series(pd, { gray: [[dGray, 0.5], [dGray2, 0.5]], blue: [[dBlue, 0.5]], green: [[dGreen, 0.5]], red: [[dRed, 0.5]] },
    { gray: dGrayPts, blue: dBluePts, green: dGreenPts });
piLine(pd);
axes(pd, xMajor, xMinor, siYMajor, siYMinor);
var pdi = makePanel([539, 807, 681, 956], [0.9, 2.1], true);
series(pdi, { gray: [[idGray, 1], [idGray2, 1]], blue: [[idBlue, 1]], green: [[idGreen, 1]], red: [[idRed, 1]] },
    { gray: idGrayPts, blue: idBluePts });
piLine(pdi);
axes(pdi, inXMajor, inXMinor, inSIMajor, inSIMinor);

// ---- texts ----
var tl = svg.append('g');
function label(x, y, str, size) {
    return tl.append('text').attr('x', x).attr('y', y).style('font-size', size + 'px').text(str);
}
function hamil(x, y, sub) {
    var t = tl.append('text').attr('x', x).attr('y', y);
    t.append('tspan').style('font-size', '33px').style('font-style', 'italic').text('\u0124');
    t.append('tspan').attr('dy', 10).attr('dx', 1).style('font-size', '27px').text(sub);
}
function delta(x, y, val, size) {
    label(x, y, '\u0394\u2002=\u2002' + val, size);
}

hamil(233, 68, 'XXZ');
delta(233, 122, '0.55', 30);
label(113, 172, '(a)', 30);
delta(297, 208, '1.1', 28);

hamil(513, 70, 'SI');
delta(513, 118, '0.55', 30);
label(705, 376, '(b)', 30);
delta(547, 323, '1.1', 28);

hamil(102, 647, 'XXZ');
delta(295, 593, '1.1', 28);
label(113, 842, '(c)', 30);
delta(283, 880, '0.55', 30);

delta(540, 790, '0.55', 30);
hamil(697, 820, 'SI');
label(705, 896, '(d)', 30);
delta(550, 838, '1.1', 28);

// legend in (d)
var legKinds = ['gray', 'blue', 'green', 'red'];
legKinds.forEach(function(k, i) {
    var yb = 585 + i * 30;
    tl.append('path')
        .attr('d', d3.symbol().type(symTypes[k]).size(symBig[k])())
        .attr('transform', 'translate(498,' + (yb - 9) + ')')
        .attr('fill', colors[k]);
    var t = tl.append('text').attr('x', 525).attr('y', yb).style('font-size', '30px');
    t.append('tspan').style('font-style', 'italic').text('N');
    t.append('tspan').text('\u2002=\u2002' + legendLabels[i]);
});
tl.append('line').attr('x1', 495).attr('x2', 502).attr('y1', 696).attr('y2', 696)
    .attr('stroke', '#000').attr('stroke-width', 2.5);
tl.append('text').attr('x', 525).attr('y', 705).style('font-size', '30px').style('font-style', 'italic').text('\u03c0/2');

// y labels
var ya = tl.append('g').attr('transform', 'translate(0,277) rotate(-90)');
ya.append('text').attr('x', 0).attr('y', 24).style('font-size', '26px').text('\u0393');
ya.append('text').attr('x', 20).attr('y', 41).style('font-size', '22px').style('font-style', 'italic')
    .style('font-family', 'DejaVu Serif').text('\u03c3\u0302');
ya.append('text').attr('x', 35).attr('y', 30).style('font-size', '14px').style('font-style', 'italic').text('z');
ya.append('text').attr('x', 35).attr('y', 48).style('font-size', '16px').style('font-style', 'italic').text('N/2');

var yc = tl.append('g').attr('transform', 'translate(0,803) rotate(-90)');
yc.append('text').attr('x', 0).attr('y', 24).style('font-size', '26px').text('\u0393');
yc.append('text').attr('x', 20).attr('y', 38).style('font-size', '20px').style('font-style', 'italic')
    .style('font-family', 'DejaVu Serif').text('T\u0302');
yc.append('text').attr('x', 35).attr('y', 29).style('font-size', '10px').text('NN');

// x labels
[93, 488].forEach(function(x0) {
    tl.append('text').attr('x', x0).attr('y', 1054)
        .attr('textLength', 288).attr('lengthAdjust', 'spacingAndGlyphs')
        .style('font-size', '29px').style('font-weight', 'bold').text('Energy Difference');
    tl.append('text').attr('x', x0 + 295).attr('y', 1054)
        .style('font-size', '29px').style('font-style', 'italic').text('\u03c9');
});
</script>
</body>
</html>
